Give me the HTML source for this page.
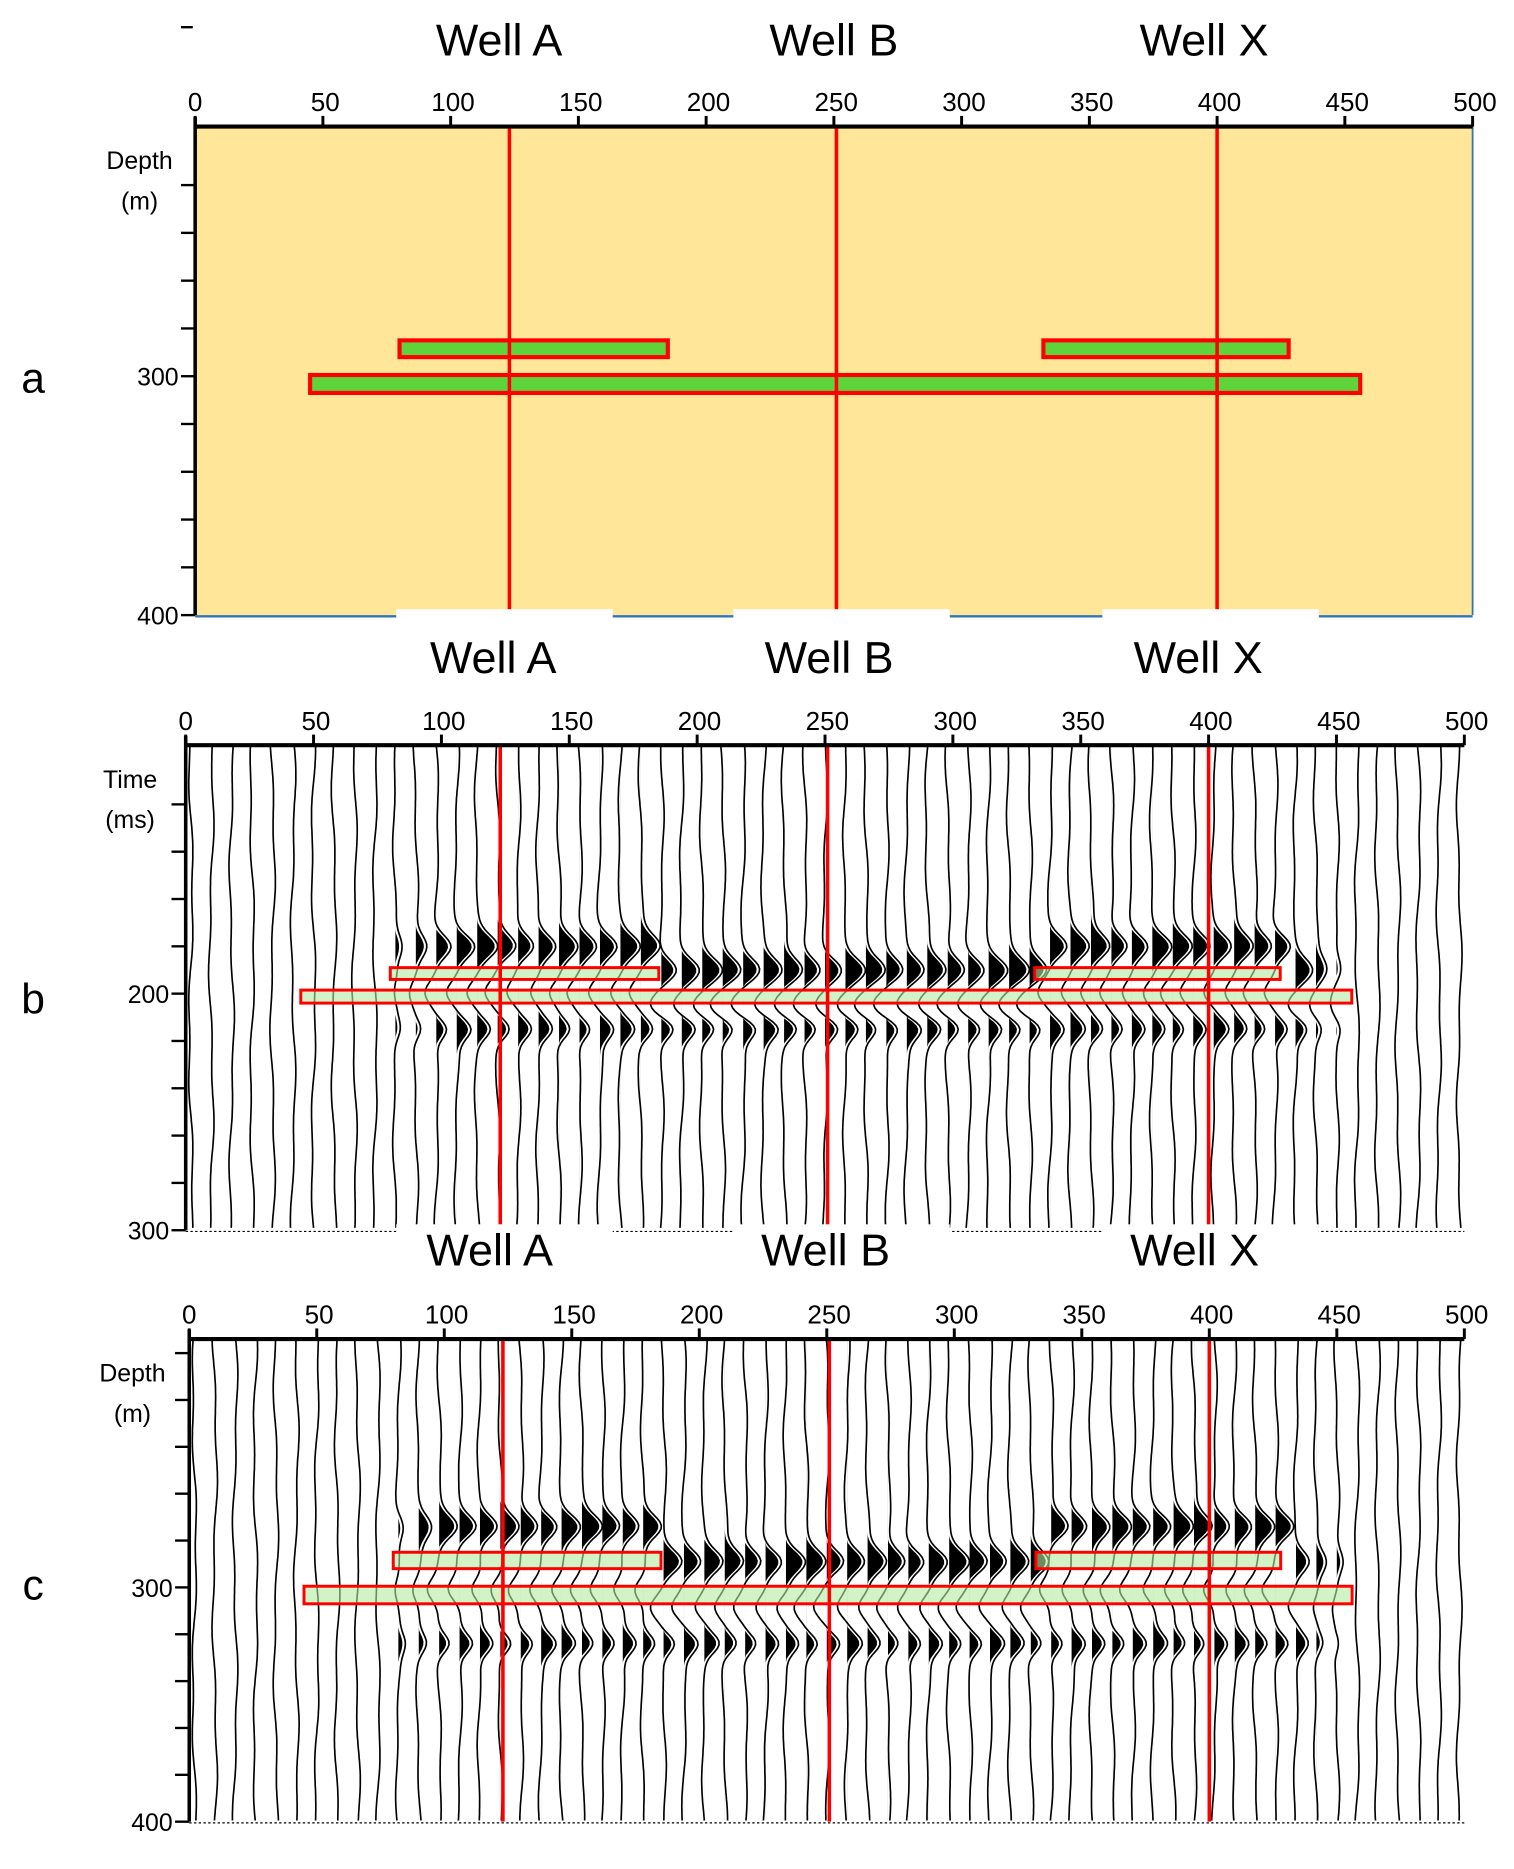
<!DOCTYPE html>
<html><head><meta charset="utf-8"><style>
html,body{margin:0;padding:0;background:#fff}
svg{display:block}
text{font-family:"Liberation Sans",sans-serif}
</style></head><body>
<svg id="fig" width="1514" height="1869" viewBox="0 0 1280 1580" preserveAspectRatio="none" xmlns="http://www.w3.org/2000/svg"></svg>
<script>
// ---- data ----
const xTicks = [0,50,100,150,200,250,300,350,400,450,500];
const wellNames = ["Well A","Well B","Well X"];
const wellPos = [123,251,400];
const zoneStart = [80,45,332];
const zoneEnd = [185,456,428];
const zoneTopDepth = [285,299.5,285];
const zoneBotDepth = [292,307,292];
const zoneTopTime = [189,198.5,189];
const zoneBotTime = [194,204,194];
const traceStep = 8;
const reflStart = 75, reflEnd = 455;
const peakShallow = 180, peakDeep = 190, secondPeakT = 215;   // ms
const peakShallowD = 274, peakDeepD = 289, secondPeakD = 324; // m

const svg = document.getElementById('fig');
const NS = "http://www.w3.org/2000/svg";
function mk(tag, attrs, parent){ const e=document.createElementNS(NS,tag); for(const k in attrs) e.setAttribute(k,attrs[k]); (parent||svg).appendChild(e); return e; }
function txt(x,y,s,size,anchor,parent){ const t=mk('text',{x:x,y:y,'font-size':size,'text-anchor':anchor||'middle',fill:'#000'},parent); t.textContent=s; return t; }

const panels = [
 {id:'a', x0:165, x1:1245, top:107, bot:520, vTop:195.5, vBot:400, vLabel:[300,400], lab:['Depth','(m)'], titleY:35, titleX:[422,705,1018], letterY:320, type:'model', zt:zoneTopDepth, zb:zoneBotDepth},
 {id:'b', x0:157, x1:1238, top:630, bot:1040, vTop:95, vBot:300, vLabel:[200,300], lab:['Time','(ms)'], titleY:557, titleX:[417,701,1013], letterY:845, type:'time', zt:zoneTopTime, zb:zoneBotTime},
 {id:'c', x0:160, x1:1238, top:1132, bot:1540, vTop:194, vBot:400, vLabel:[300,400], lab:['Depth','(m)'], titleY:1058, titleX:[414,698,1010], letterY:1340, type:'depth', zt:zoneTopDepth, zb:zoneBotDepth}
];
function gs(d,s){return Math.exp(-Math.pow(d/s,2));}

panels.forEach(p=>{
  const g = mk('g',{});
  
  
  const X = u => p.x0 + (u/500)*(p.x1-p.x0);
  const Y = v => p.top + (v-p.vTop)/(p.vBot-p.vTop)*(p.bot-p.top);
  if(p.type==='model'){
    const bg = mk('rect',{x:p.x0,y:p.top,width:p.x1-p.x0,height:p.bot-p.top,fill:'#FFE699'},g);
     
    mk('line',{x1:p.x1,y1:p.top,x2:p.x1,y2:p.bot,stroke:'#2e75b6','stroke-width':1.5},g);
    mk('line',{x1:p.x0,y1:p.bot+1,x2:p.x1,y2:p.bot+1,stroke:'#2e75b6','stroke-width':2},g);
  } else {
    const tg = mk('g',{},g);
     
    for(let u=2,i=0; u<=500; u+=traceStep, i++){
      const xb = X(u);
      const inRefl = u>=reflStart && u<=reflEnd;
      const shallow = (u>=zoneStart[0]&&u<=zoneEnd[0])||(u>=zoneStart[2]&&u<=zoneEnd[2]);
      let t1,t2;
      if(p.type==='time'){ t1 = shallow?peakShallow:peakDeep; t2=secondPeakT; }
      else { t1 = shallow?peakShallowD:peakDeepD; t2=secondPeakD; }
      const mid=(t1+t2)/2+2;
      const edge = Math.min(1, (u-reflStart)/25, (reflEnd-u)/25);
      const A = inRefl ? 15*Math.max(0.35,edge) : 0;
      let pts=[], fill=[];
      for(let v=p.vTop; v<=p.vBot; v+=1.5){
        let w = A*(gs(v-t1,6.5) - 0.6*gs(v-mid,6) + 0.7*gs(v-t2,5.5));
        w += 1.6*Math.sin(v*0.05+i*1.7) + 0.8*Math.sin(v*0.15+i*0.9);
        const px = xb+w, py=Y(v);
        pts.push(px.toFixed(1)+','+py.toFixed(1));
        fill.push({x:xb+Math.max(w-2.5,0),y:py});
      }
      const pl = mk('polyline',{points:pts.join(' '),fill:'none',stroke:'#000','stroke-width':1.4},tg);
       
      if(A>0){
        let dstr='M'+xb+','+fill[0].y;
        fill.forEach(f=>{dstr+=' L'+f.x.toFixed(1)+','+f.y.toFixed(1);});
        dstr+=' L'+xb+','+fill[fill.length-1].y+' Z';
        mk('path',{d:dstr,fill:'#000',stroke:'none'},tg);
      }
    }
    mk('line',{x1:p.x0,y1:p.bot+1,x2:p.x1,y2:p.bot+1,stroke:'#000','stroke-width':1,'stroke-dasharray':'2,2'},g);
  }
  for(let k=0;k<zoneStart.length;k++){
    const r = mk('rect',{x:X(zoneStart[k]),y:Y(p.zt[k]),width:X(zoneEnd[k])-X(zoneStart[k]),height:Y(p.zb[k])-Y(p.zt[k]),
      fill:p.type==='model'?'#5fd33a':'rgba(180,235,160,0.6)',stroke:'#ff0000','stroke-width':p.type==='model'?3.5:2.5},g);
     
  }
  wellPos.forEach((w,k)=>{
    const l = mk('line',{x1:X(w),y1:p.top,x2:X(w),y2:p.bot,stroke:'#ff0000','stroke-width':3},g);
     
  });
  if(p.type!=='depth'){
    [[335,518],[620,803],[932,1115]].forEach(b=>mk('rect',{x:b[0],y:p.bot-5,width:b[1]-b[0],height:12,fill:'#fff'},g));
  }
  mk('line',{x1:p.x0,y1:p.top,x2:p.x1,y2:p.top,stroke:'#000','stroke-width':3.5},g);
  mk('line',{x1:p.x0,y1:p.top-8,x2:p.x0,y2:p.bot,stroke:'#000','stroke-width':3},g);
  xTicks.forEach(t=>{
    mk('line',{x1:X(t),y1:p.top,x2:X(t),y2:p.top-9,stroke:'#000','stroke-width':2.5},g);
    const tl = txt(X(t)+(t===0?0:2),p.top-13,String(t),22,'middle',g);
     
  });
  for(let v=p.vBot; v>p.vTop+5; v-=20){
    mk('line',{x1:p.x0,y1:Y(v),x2:p.x0-12,y2:Y(v),stroke:'#000','stroke-width':2},g);
  }
  p.vLabel.forEach(v=>{ const tl=txt(p.x0-14,Y(v)+8,String(v),21,'end',g);   });
  const lx = p.id==='b'?110:(p.id==='c'?112:118);
  const yt1 = txt(lx,p.top+36,p.lab[0],21,'middle',g);
   
  txt(lx,p.top+70,p.lab[1],21,'middle',g);
  wellNames.forEach((n,k)=>{ const t=txt(p.titleX[k],p.titleY+12,n,38,'middle',g);   });
  const L = txt(28,p.letterY+12,p.id,36,'middle',g);
   
});
mk('line',{x1:153,y1:23,x2:163,y2:23,stroke:'#000','stroke-width':2});
</script>
</body></html>
